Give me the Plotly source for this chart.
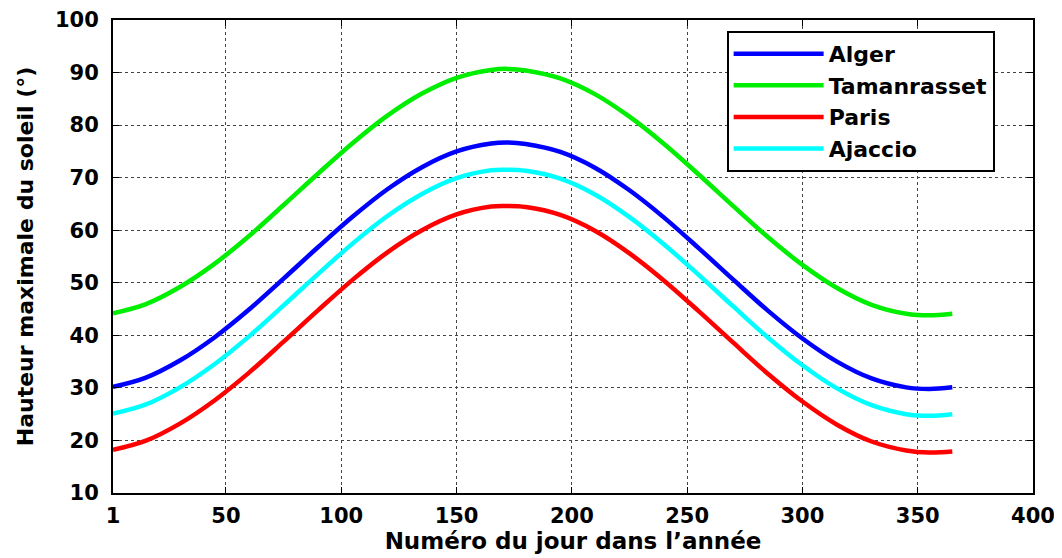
import plotly.graph_objects as go

# Day of year (read points)
days = [1, 15, 30, 45, 60, 75, 90, 105, 120, 135, 150, 165, 172, 180, 195,
        210, 225, 240, 255, 270, 285, 300, 315, 330, 345, 355, 365]

alger = [30.2, 31.9, 35.2, 39.6, 44.9, 50.8, 56.8, 62.6, 67.8, 72.0, 75.0, 76.5, 76.7, 76.4, 74.9,
         71.9, 67.6, 62.4, 56.6, 50.6, 44.7, 39.4, 35.0, 31.8, 30.1, 29.8, 30.1]
tamanrasset = [44.2, 45.9, 49.2, 53.6, 58.9, 64.8, 70.8, 76.6, 81.8, 86.0, 89.0, 90.5, 90.7, 90.4, 88.9,
               85.9, 81.6, 76.4, 70.6, 64.6, 58.7, 53.4, 49.0, 45.8, 44.1, 43.8, 44.1]
paris = [18.2, 19.9, 23.2, 27.6, 32.9, 38.8, 44.8, 50.6, 55.8, 60.0, 63.0, 64.5, 64.6, 64.4, 62.9,
         59.9, 55.6, 50.4, 44.6, 38.6, 32.7, 27.4, 23.0, 19.8, 18.1, 17.7, 17.9]
ajaccio = [25.1, 26.8, 30.1, 34.5, 39.8, 45.7, 51.7, 57.5, 62.7, 66.9, 69.9, 71.4, 71.5, 71.3, 69.8,
           66.8, 62.5, 57.3, 51.5, 45.5, 39.6, 34.3, 29.9, 26.7, 25.0, 24.7, 25.0]

series_names = ["Alger", "Tamanrasset", "Paris", "Ajaccio"]
series_values = [alger, tamanrasset, paris, ajaccio]
colors = ["#0000ff", "#00ee00", "#ff0000", "#00ffff"]

x_ticks = [1, 50, 100, 150, 200, 250, 300, 350, 400]
y_ticks = [10, 20, 30, 40, 50, 60, 70, 80, 90, 100]

FONT = "DejaVu Sans"

fig = go.Figure()
for name, vals, col in zip(series_names, series_values, colors):
    fig.add_trace(go.Scatter(
        x=days, y=vals, name=name, mode="lines",
        line=dict(color=col, width=4.5, shape="spline", smoothing=1.0),
        legendgroup=name,
    ))

axis_common = dict(
    showline=True, linecolor="black", linewidth=2, mirror="ticks",
    ticks="inside", ticklen=6, tickcolor="black", tickwidth=1,
    showgrid=True, gridcolor="#444444", gridwidth=1, griddash="dot",
    zeroline=False, automargin=False,
    tickfont=dict(family=FONT, size=21, color="black", weight="bold"),
)

fig.update_xaxes(
    range=[1, 400], tickvals=x_ticks, ticktext=[str(t) for t in x_ticks],
    title=dict(text="Numéro du jour dans l’année",
               font=dict(family=FONT, size=23, color="black", weight="bold"), standoff=4),
    ticklabelstandoff=3,
    **axis_common,
)
fig.update_yaxes(
    range=[10, 100], tickvals=y_ticks, ticktext=[str(t) for t in y_ticks],
    title=dict(text="Hauteur maximale du soleil (°)",
               font=dict(family=FONT, size=22, color="black", weight="bold"), standoff=15),
    ticklabelstandoff=8,
    **axis_common,
)

# The page body adds an 8px offset; size the figure to fit the window.
fig.update_layout(
    width=1054, height=550,
    margin=dict(l=105, r=29, t=12, b=65, autoexpand=False),
    paper_bgcolor="white", plot_bgcolor="white",
    showlegend=True,
    legend=dict(
        x=0.667, y=0.977, xanchor="left", yanchor="top",
        bgcolor="white", bordercolor="black", borderwidth=2,
        font=dict(family=FONT, size=22, color="black", weight="bold"),
        itemwidth=90, tracegroupgap=0,
    ),
)

fig.write_html("out.html")
